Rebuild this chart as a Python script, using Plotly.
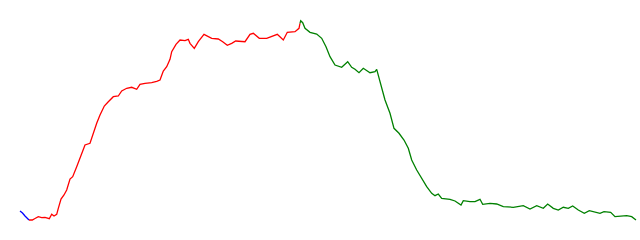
import plotly.graph_objects as go

blue_x = [20, 22.5, 25, 27, 29]
blue_y = [211, 213, 216, 218.5, 220]

red_x = [29, 32.3, 35, 38.3, 41.7, 45, 49.3, 51.7, 54, 56.7, 58.3, 61, 64, 66.7, 70, 72.7, 76.7,
         81.7, 85, 90, 93.3, 96.7, 100, 104.3, 108.3, 113.3, 118.3, 121.7, 126.7, 131.7, 136.7,
         140, 145, 151.7, 156.7, 160, 163.3, 166.7, 170, 171.7, 176, 180, 185, 188.3, 190,
         194.3, 198.3, 204, 211.7, 218.3, 222.7, 227.3, 231.7, 235.7, 245, 250, 253.3, 259.3,
         266.7, 271.7, 277.3, 283.3, 287.3, 295, 299, 300]
red_y = [220, 220, 218.5, 216.7, 217.7, 217.3, 218.7, 214.3, 216, 214.3, 208.3, 199, 195, 190,
         179, 176.7, 166.7, 153.3, 145, 143.3, 132.3, 123.3, 115, 106, 101.7, 96.7, 96, 91,
         88.3, 87.3, 89.3, 84.3, 83.3, 82.7, 81.3, 80, 71, 66.7, 59.3, 51.7, 44.3, 40, 40.7,
         39.3, 43.3, 48.3, 41.7, 34.3, 38.3, 39, 41.7, 45.3, 43.3, 41, 41.7, 34.3, 33.3, 38.3,
         38.3, 36.7, 34.3, 40, 32.3, 31.7, 28.3, 23.3]

green_x = [300, 300.7, 302.7, 305, 310, 316.7, 321.7, 326, 330, 335, 341.7, 347.7, 351.7, 355,
           359, 363.3, 370, 375, 376.7, 378.3, 381.7, 385, 390, 394, 399, 404, 408.3, 411.7,
           416.7, 421.7, 426.7, 431.7, 435, 438.3, 441.7, 450, 455, 461, 463.3, 470, 475, 480,
           482.7, 490, 496.7, 503.3, 513.3, 523.3, 530, 536.7, 543.3, 547.7, 553.3, 558.3,
           563.3, 568.3, 572.7, 578.3, 584.3, 589.3, 595, 600, 604, 610.7, 615, 621.7, 626.7,
           631.7, 636]
green_y = [23.3, 20.7, 22.7, 28.3, 32.3, 34, 38.3, 46.7, 56.7, 65, 67.3, 61.7, 67.3, 69.3, 72.7,
           68.3, 72.7, 71.7, 69.3, 75, 86.7, 100, 113.3, 128.3, 133.3, 140, 148.3, 160, 170,
           178.3, 186.7, 193.3, 195.7, 194, 198.3, 199.3, 201, 205, 200.7, 201.7, 201.7, 199.3,
           204.3, 203.3, 204, 206.7, 207.3, 205.7, 209, 205.7, 208.3, 204, 208.3, 210, 207.3,
           208.3, 206, 210, 213.3, 210.7, 212.3, 213.3, 211.7, 212.3, 216.7, 216, 215.7, 216.7,
           220]

fig = go.Figure()
fig.add_trace(go.Scatter(x=blue_x, y=blue_y, mode="lines", line=dict(color="blue", width=1.3)))
fig.add_trace(go.Scatter(x=red_x, y=red_y, mode="lines", line=dict(color="red", width=1.3)))
fig.add_trace(go.Scatter(x=green_x, y=green_y, mode="lines", line=dict(color="green", width=1.3)))

fig.update_layout(
    width=640, height=240,
    margin=dict(l=0, r=0, t=0, b=0),
    paper_bgcolor="white", plot_bgcolor="white",
    showlegend=False,
    xaxis=dict(range=[0, 640], visible=False),
    yaxis=dict(range=[240, 0], visible=False),
)
fig.write_html("out.html")
